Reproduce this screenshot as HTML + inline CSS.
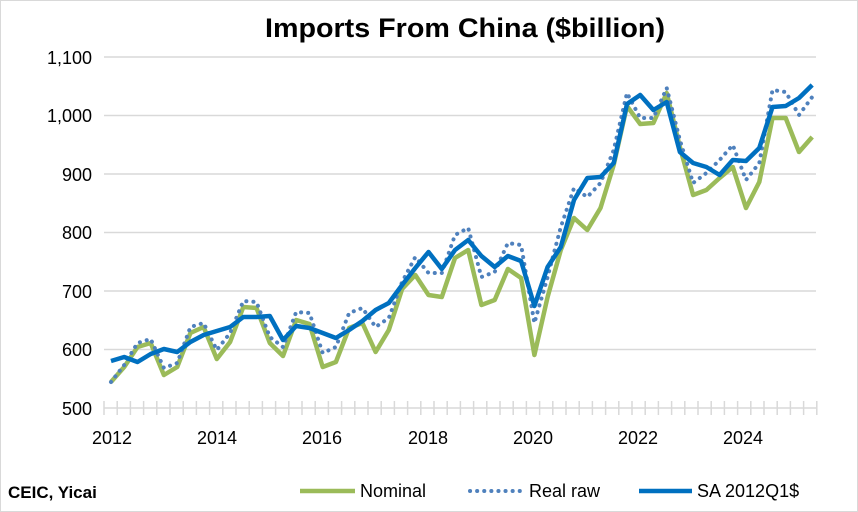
<!DOCTYPE html>
<html><head><meta charset="utf-8"><style>
html,body{margin:0;padding:0;background:#fff}
svg{display:block;font-family:"Liberation Sans",sans-serif}
</style></head><body>
<svg width="858" height="512" viewBox="0 0 858 512" xmlns="http://www.w3.org/2000/svg">
<rect x="0.5" y="0.5" width="857" height="511" fill="#fff" stroke="#d9d9d9"/>
<text x="465" y="37" font-size="27" font-weight="bold" text-anchor="middle" fill="#000" textLength="400" lengthAdjust="spacingAndGlyphs">Imports From China ($billion)</text>
<g stroke="#d9d9d9" stroke-width="1.5">
<line x1="104" y1="57" x2="816" y2="57"/>
<line x1="104" y1="115.5" x2="816" y2="115.5"/>
<line x1="104" y1="174" x2="816" y2="174"/>
<line x1="104" y1="232.5" x2="816" y2="232.5"/>
<line x1="104" y1="291" x2="816" y2="291"/>
<line x1="104" y1="349.5" x2="816" y2="349.5"/>
<line x1="104" y1="408" x2="816" y2="408"/>
</g>
<g id="ticks" stroke="#d9d9d9" stroke-width="1.5"></g>
<g font-size="18" fill="#000" text-anchor="end">
<text x="92" y="64">1,100</text><text x="92" y="122">1,000</text><text x="92" y="181">900</text>
<text x="92" y="239">800</text><text x="92" y="298">700</text><text x="92" y="356">600</text><text x="92" y="415">500</text>
</g>
<g font-size="18" fill="#000" text-anchor="middle">
<text x="112" y="444">2012</text><text x="217" y="444">2014</text><text x="322" y="444">2016</text>
<text x="428" y="444">2018</text><text x="533" y="444">2020</text><text x="638" y="444">2022</text><text x="743" y="444">2024</text>
</g>
<polyline id="g" fill="none" stroke="#9bbb59" stroke-width="4.5" stroke-linejoin="round"/>
<polyline id="r" fill="none" stroke="#4f81bd" stroke-width="4" stroke-dasharray="0.1 7" stroke-linecap="round"/>
<polyline id="b" fill="none" stroke="#0070c0" stroke-width="4.5" stroke-linejoin="round"/>
<text x="8" y="498" font-size="17" font-weight="bold" fill="#000">CEIC, Yicai</text>
<line x1="300" y1="491" x2="355" y2="491" stroke="#9bbb59" stroke-width="4.5"/>
<text x="360" y="497" font-size="18" fill="#000">Nominal</text>
<line x1="470" y1="491" x2="524" y2="491" stroke="#4f81bd" stroke-width="4" stroke-dasharray="0.1 7" stroke-linecap="round"/>
<text x="529" y="497" font-size="18" fill="#000">Real raw</text>
<line x1="639" y1="491" x2="692" y2="491" stroke="#0070c0" stroke-width="4.5"/>
<text x="697" y="497" font-size="18" fill="#000">SA 2012Q1$</text>
</svg>
<script>
var G=[382,367,347,343,375,367,333,327,359,342,307,308,343,356,320,324,367,362,328,323,352,330,289,275,295,297,258,250,305,300,269,278,355,297,250,218,230,208,165,106,124,123,93,147,195,190,178,167,208,182,118,118,152,137];
var R=[382,365,343,339,368,363,327,323,350,333,301,302,337,347,312,313,353,347,313,308,327,318,282,257,273,273,235,228,277,272,243,245,323,277,227,188,197,183,150,93,118,118,88,140,183,173,160,145,180,163,90,92,115,97];
var B=[361,357,362,354,349,352,342,335,331,327,317,317,316,340,326,328,333,338,330,321,310,303,285,268,252,269,250,240,256,267,256,261,306,267,247,200,178,177,163,104,95,110,102,152,163,167,175,160,161,148,107,106,98,85];
function pts(a){return a.map(function(y,i){return (111+i*13.23).toFixed(1)+","+y}).join(" ")}
document.getElementById("g").setAttribute("points",pts(G));
document.getElementById("r").setAttribute("points",pts(R));
document.getElementById("b").setAttribute("points",pts(B));
var t=document.getElementById("ticks"),s="";
for(var i=0;i<=54;i++){var x=104+i*13.2;s+='<line x1="'+x+'" y1="401" x2="'+x+'" y2="415"/>';}
t.innerHTML=s;
</script>
</body></html>
